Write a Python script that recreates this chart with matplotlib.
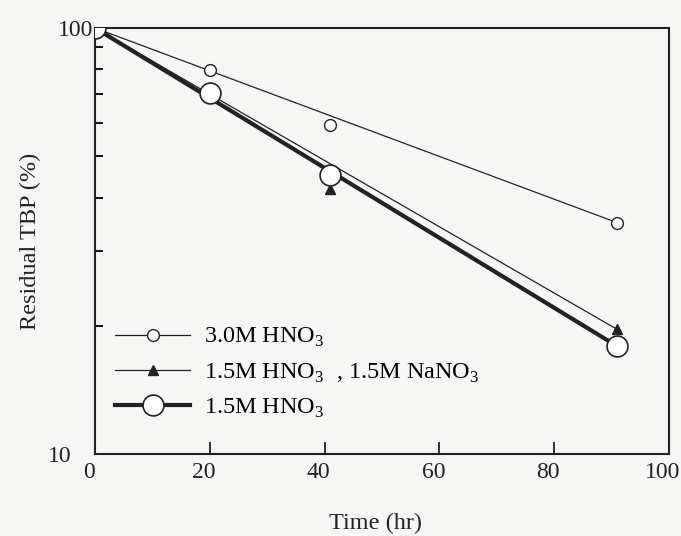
import matplotlib.pyplot as plt
import matplotlib.transforms as mtransforms
from matplotlib.lines import Line2D
from matplotlib.ticker import LogLocator, NullFormatter, FixedLocator

plt.rcParams['font.family'] = ['Liberation Serif', 'DejaVu Serif']
plt.rcParams['mathtext.fontset'] = 'custom'
plt.rcParams['mathtext.rm'] = 'Liberation Serif'

# Measured residual TBP (%) vs time for each acid condition
time_hr = [0, 20, 41, 91]
tbp_30_hno3 = [100, 79.7, 59.3, 34.9]
tbp_15_hno3_nano3 = [100, 70.0, 41.8, 19.6]
tbp_15_hno3 = [100, 70.2, 45.3, 17.9]

# First-order decay lines (straight on the log axis): start and end values
fit_time = [0, 91]
fit_30_hno3 = [100, 34.9]
fit_15_hno3_nano3 = [100, 19.6]
fit_15_hno3 = [100, 17.9]

labels = ['3.0M HNO$_3$',
          '1.5M HNO$_3$  , 1.5M NaNO$_3$',
          '1.5M HNO$_3$']

W, H = 681, 536
fig = plt.figure(figsize=(W / 100, H / 100), dpi=100)
fig.patch.set_facecolor('#f6f6f4')
ax = fig.add_axes([95 / W, (H - 454) / H, 574 / W, 426 / H])
ax.set_facecolor('#f6f6f4')

ink = '#222222'

# fitted lines
ax.plot(fit_time, fit_30_hno3, color=ink, lw=0.9, zorder=2)
ax.plot(fit_time, fit_15_hno3_nano3, color=ink, lw=0.9, zorder=2)
ax.plot(fit_time, fit_15_hno3, color=ink, lw=3.0, zorder=2)

# data points
ax.plot(time_hr, tbp_15_hno3_nano3, ls='none', marker='^', ms=7,
        mfc=ink, mec=ink, zorder=3)
ax.plot(time_hr, tbp_30_hno3, ls='none', marker='o', ms=8.5,
        mfc='white', mec=ink, mew=1.0, zorder=4)
ax.plot(time_hr, tbp_15_hno3, ls='none', marker='o', ms=15,
        mfc='white', mec=ink, mew=1.2, zorder=5)

ax.set_yscale('log')
ax.set_xlim(0, 100)
ax.set_ylim(10, 100)

ax.xaxis.set_major_locator(FixedLocator([0, 20, 40, 60, 80, 100]))
ax.set_xticklabels(['0', '20', '40', '60', '80', '100'])
ax.yaxis.set_major_locator(FixedLocator([10, 100]))
ax.set_yticklabels(['10', '100'])
ax.yaxis.set_minor_locator(LogLocator(base=10, subs=range(2, 10)))
ax.yaxis.set_minor_formatter(NullFormatter())

ax.tick_params(axis='x', direction='in', length=9, width=1.3, pad=6,
               labelsize=17, colors=ink, top=False)
ax.tick_params(axis='y', which='major', direction='in', length=0, pad=1,
               labelsize=17, colors=ink, right=False)
ax.tick_params(axis='y', which='minor', direction='in', length=6, width=1.3,
               right=False)

# nudge tick labels a little to the left
shift = mtransforms.ScaledTranslation(-6 / 100, 0, fig.dpi_scale_trans)
for lab in ax.get_xticklabels():
    lab.set_transform(lab.get_transform() + shift)
ylabs = ax.get_yticklabels()
ylabs[0].set_transform(ylabs[0].get_transform()
                       + mtransforms.ScaledTranslation(-22 / 100, 0, fig.dpi_scale_trans))

for sp in ax.spines.values():
    sp.set_linewidth(1.5)
    sp.set_color(ink)

ax.set_xlabel('Time (hr)', fontsize=17.5, color=ink, va='center')
ax.set_ylabel('Residual TBP (%)', fontsize=17.5, color=ink, va='center')
ax.xaxis.set_label_coords(0.488, -0.162)
ax.yaxis.set_label_coords(-0.113, 0.50)

handles = [
    Line2D([], [], color=ink, lw=0.9, marker='o', ms=8.5, mfc='white', mec=ink),
    Line2D([], [], color=ink, lw=0.9, marker='^', ms=7, mfc=ink, mec=ink),
    Line2D([], [], color=ink, lw=3.0, marker='o', ms=15, mfc='white', mec=ink, mew=1.2),
]
ax.legend(handles, labels, loc='center left', bbox_to_anchor=(0.035, 0.19),
          frameon=False, fontsize=17.5, handlelength=3.1, handletextpad=0.55,
          labelspacing=0.5, borderpad=0, borderaxespad=0)

fig.savefig('out.png', dpi=100, facecolor=fig.get_facecolor())
